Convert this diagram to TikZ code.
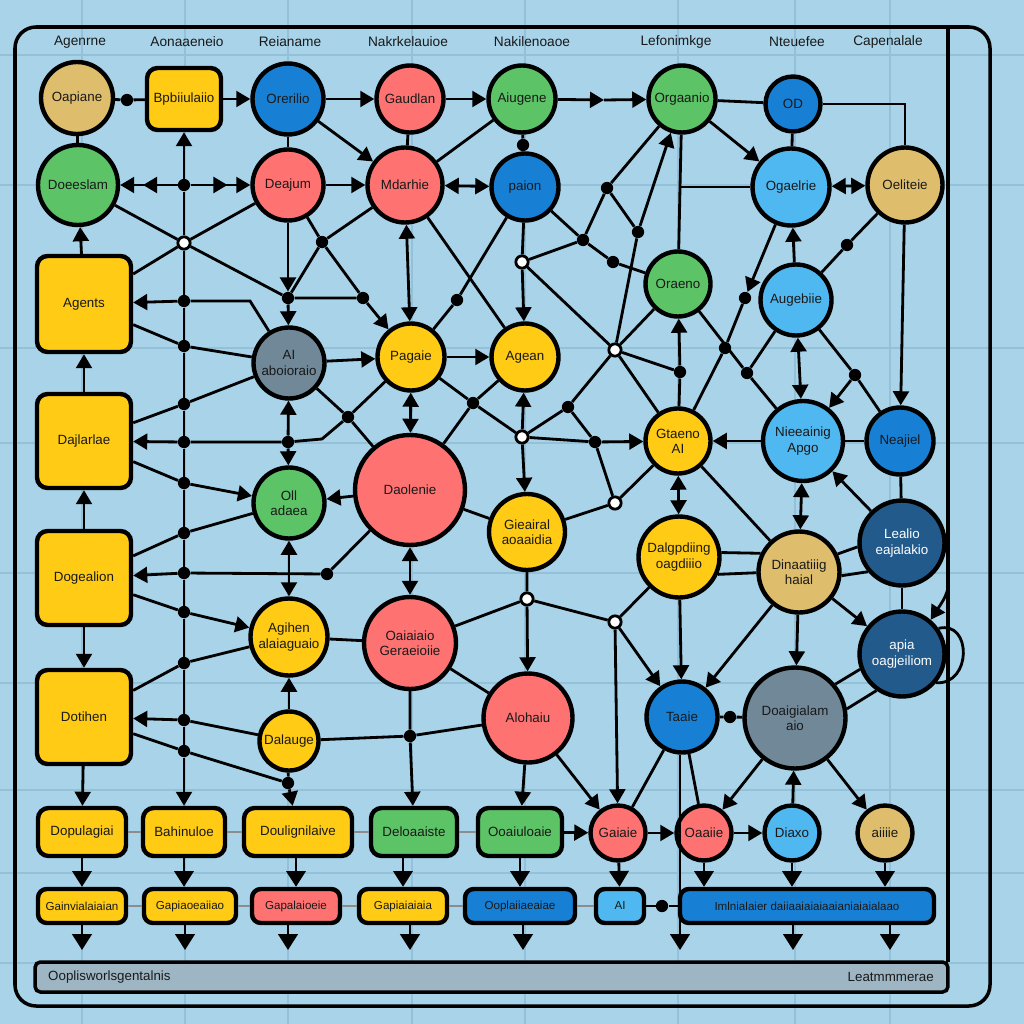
\documentclass[tikz,border=0pt]{standalone}
\usepackage{fontspec}
\setmainfont{Liberation Sans}
\usetikzlibrary{arrows.meta}
\definecolor{bgc}{RGB}{168,211,233}
\definecolor{gridc}{RGB}{148,192,216}
\definecolor{cyel}{RGB}{255,203,20}
\definecolor{csal}{RGB}{255,114,114}
\definecolor{cgrn}{RGB}{92,196,102}
\definecolor{cblu}{RGB}{24,128,212}
\definecolor{clbl}{RGB}{80,184,240}
\definecolor{ctan}{RGB}{222,190,108}
\definecolor{cdbl}{RGB}{34,90,140}
\definecolor{cgry}{RGB}{112,136,152}
\definecolor{cbar}{RGB}{158,182,196}
\begin{document}
\begin{tikzpicture}[x=0.02cm,y=-0.02cm,
  lbl/.style={font=\fontsize{7.6}{8.6}\selectfont,align=center,text=black!90},
  bub/.style={circle,draw=black,line width=2.5pt,inner sep=0pt,fill=#1,lbl},
  box/.style={rectangle,rounded corners=6pt,draw=black,line width=2.5pt,inner sep=2pt,fill=#1,lbl},
  sbox/.style={box=#1,font=\fontsize{6.6}{7.5}\selectfont,minimum height=0.68cm,rounded corners=5pt},
  dot/.style={circle,fill=black,inner sep=0pt,minimum size=7pt},
  odot/.style={circle,draw=black,fill=white,line width=1.6pt,inner sep=0pt,minimum size=7pt},
  ln/.style={line width=1.6pt},
  arr/.style={ln,-{Triangle[length=8pt,width=9pt]}},
  arrs/.style={ln,{Triangle[length=8pt,width=9pt]}-{Triangle[length=8pt,width=9pt]}},
  dbl/.style={ln,-{Triangle[length=8pt,width=9pt,sep=5pt]Triangle[length=8pt,width=9pt]}},
  big/.style={ln,-{Triangle[length=9pt,width=11pt]}},
  faint/.style={line width=0.7pt,draw=black!45},
  hdr/.style={font=\fontsize{7.8}{9}\selectfont,text=black!90}]
\useasboundingbox (0,0) rectangle (1024,1024);
\fill[bgc] (0,0) rectangle (1024,1024);
\foreach \gx in {82,185,288,412,525,678,795,890}
  \draw[gridc,line width=0.6pt] (\gx,0) -- (\gx,1024);
\foreach \gy in {55,185,348,443,573,683,790,873,963}
  \draw[gridc,line width=0.6pt] (0,\gy) -- (1024,\gy);
\draw[line width=2pt,rounded corners=12pt] (15,27) rectangle (990,1006);
\draw[line width=2pt] (948,27) -- (948,962);

\node[hdr] (h1) at (80,42) {Agenrne};
\node[hdr] (h2) at (187,42) {Aonaaeneio};
\node[hdr] (h3) at (290,42) {Reianame};
\node[hdr] (h4) at (408,42) {Nakrkelauioe};
\node[hdr] (h5) at (532,42) {Nakilenoaoe};
\node[hdr] (h6) at (676,42) {Lefonimkge};
\node[hdr] (h7) at (797,42) {Nteuefee};
\node[hdr] (h8) at (888,42) {Capenalale};

\node[bub=ctan,minimum size=1.44cm] (oapiane) at (77,98) {Oapiane};
\node[box=cyel,minimum width=1.48cm,minimum height=1.24cm] (bpbiu) at (184,99) {Bpbiiulaiio};
\node[bub=cblu,minimum size=1.42cm] (orerio) at (288,99) {Orerilio};
\node[bub=csal,minimum size=1.34cm] (gaudlan) at (410,99) {Gaudlan};
\node[bub=cgrn,minimum size=1.34cm] (aiugene) at (522,99) {Aiugene};
\node[bub=cgrn,minimum size=1.34cm] (orgaanio) at (682,99) {Orgaanio};
\node[bub=cblu,minimum size=1.1cm] (od) at (793,104) {OD};
\node[bub=cgrn,minimum size=1.6cm] (doeeslam) at (78,185) {Doeeslam};
\node[bub=csal,minimum size=1.42cm] (deajum) at (288,185) {Deajum};
\node[bub=csal,minimum size=1.5cm] (mdarhie) at (405,185) {Mdarhie};
\node[bub=cblu,minimum size=1.34cm] (paion) at (525,187) {paion};
\node[bub=clbl,minimum size=1.54cm] (ogaelrie) at (791,187) {Ogaelrie};
\node[bub=ctan,minimum size=1.5cm] (oeliteie) at (905,185) {Oeliteie};
\node[box=cyel,minimum width=1.88cm,minimum height=1.92cm] (agents) at (84,304) {Agents};
\node[bub=cgrn,minimum size=1.3cm] (oraeno) at (678,284) {Oraeno};
\node[bub=clbl,minimum size=1.42cm] (augebiie) at (796,300) {Augebiie};
\node[bub=cgry,minimum size=1.42cm] (aiabo) at (289,363) {AI\\aboioraio};
\node[bub=cyel,minimum size=1.34cm] (pagaie) at (411,357) {Pagaie};
\node[bub=cyel,minimum size=1.34cm] (agean) at (525,357) {Agean};
\node[box=cyel,minimum width=1.88cm,minimum height=1.88cm] (dajlarlae) at (84,441) {Dajlarlae};
\node[bub=cyel,minimum size=1.3cm] (gtaeno) at (678,441) {Gtaeno\\AI};
\node[bub=clbl,minimum size=1.6cm] (nieeainig) at (803,441) {Nieeainig\\Apgo};
\node[bub=cblu,minimum size=1.34cm] (neajiel) at (900,441) {Neajiel};
\node[bub=csal,minimum size=2.2cm] (daolenie) at (410,490) {Daolenie};
\node[bub=cgrn,minimum size=1.42cm] (olladaea) at (289,503) {Oll\\adaea};
\node[bub=cyel,minimum size=1.52cm] (gieairal) at (527,532) {Gieairal\\aoaaidia};
\node[bub=cyel,minimum size=1.62cm] (dalgpdiing) at (679,557) {Dalgpdiing\\oagdiiio};
\node[bub=ctan,minimum size=1.62cm] (dinaatiiig) at (799,572) {Dinaatiiig\\haial};
\node[bub=cdbl,minimum size=1.7cm,text=white] (lealio) at (902,543) {Lealio\\eajalakio};
\node[box=cyel,minimum width=1.88cm,minimum height=1.88cm] (dogealion) at (84,578) {Dogealion};
\node[bub=cyel,minimum size=1.54cm] (agihen) at (289,637) {Agihen\\alaiaguaio};
\node[bub=csal,minimum size=1.84cm] (oaiaiaio) at (410,643) {Oaiaiaio\\Geraeioiie};
\node[bub=cdbl,minimum size=1.7cm,text=white] (apia) at (902,654) {apia\\oagjeiliom};
\node[box=cyel,minimum width=1.88cm,minimum height=1.88cm] (dotihen) at (84,717) {Dotihen};
\node[bub=cyel,minimum size=1.18cm] (dalauge) at (289,741) {Dalauge};
\node[bub=csal,minimum size=1.78cm] (alohaiu) at (528,718) {Alohaiu};
\node[bub=cblu,minimum size=1.42cm] (taaie) at (682,717) {Taaie};
\node[bub=cgry,minimum size=2.02cm] (doaigialam) at (795,718) {Doaigialam\\aio};

\node[box=cyel,minimum width=1.76cm,minimum height=0.96cm] (dopulagiai) at (82,832) {Dopulagiai};
\node[box=cyel,minimum width=1.64cm,minimum height=0.96cm] (bahinuloe) at (184,832) {Bahinuloe};
\node[box=cyel,minimum width=2.16cm,minimum height=0.96cm] (doulignilaive) at (298,832) {Doulignilaive};
\node[box=cgrn,minimum width=1.72cm,minimum height=0.96cm] (deloaaiste) at (414,832) {Deloaaiste};
\node[box=cgrn,minimum width=1.68cm,minimum height=0.96cm] (ooaiuloaie) at (520,832) {Ooaiuloaie};
\node[bub=csal,minimum size=1.1cm] (gaiaie) at (618,833) {Gaiaie};
\node[bub=csal,minimum size=1.1cm] (oaaiie) at (704,833) {Oaaiie};
\node[bub=clbl,minimum size=1.1cm] (diaxo) at (792,833) {Diaxo};
\node[bub=ctan,minimum size=1.1cm] (aiiiie) at (885,833) {aiiiie};

\node[sbox=cyel,minimum width=1.76cm] (gainvia) at (82,906) {Gainvialaiaian};
\node[sbox=cyel,minimum width=1.84cm] (gapiao) at (190,906) {Gapiaoeaiiao};
\node[sbox=csal,minimum width=1.76cm] (gapalai) at (296,906) {Gapalaioeie};
\node[sbox=cyel,minimum width=1.76cm] (gapiai) at (403,906) {Gapiaiaiaia};
\node[sbox=cblu,minimum width=2.2cm] (ooplai) at (520,906) {Ooplaiiaeaiae};
\node[sbox=clbl,minimum width=0.96cm] (aibox) at (620,906) {AI};
\node[sbox=cblu,minimum width=5.08cm] (imlnia) at (807,906) {Imlnialaier daiiaaiaiaiaaianiaiaialaao};

\node[draw=black,fill=cbar,line width=2pt,rounded corners=3pt,minimum width=18.26cm,minimum height=0.6cm] (bar) at (491.5,977) {};
\node[lbl,anchor=west] (barl) at (42,977) {Ooplisworlsgentalnis};
\node[lbl,anchor=east] (barr) at (940,977) {Leatmmmerae};

\node[dot] (d1) at (127,100) {};
\node[dot] (d2) at (184,185) {};
\node[odot] (o1) at (184,243) {};
\node[dot] (d3) at (184,301) {};
\node[dot] (d4) at (184,346) {};
\node[dot] (d5) at (184,404) {};
\node[dot] (d6) at (184,442) {};
\node[dot] (d7) at (184,483) {};
\node[dot] (d8) at (184,533) {};
\node[dot] (d9) at (184,573) {};
\node[dot] (d10) at (184,612) {};
\node[dot] (d11) at (184,663) {};
\node[dot] (d12) at (184,720) {};
\node[dot] (d13) at (184,751) {};
\node[dot] (d14) at (288,298) {};
\node[dot] (d15) at (288,442) {};
\node[dot] (d16) at (348,417) {};
\node[dot] (d17) at (327,574) {};
\node[dot] (d18) at (288,783) {};
\node[dot] (d19) at (363,298) {};
\node[dot] (d20) at (322,242) {};
\node[dot] (d21) at (457,300) {};
\node[dot] (d22) at (473,403) {};
\node[dot] (d23) at (568,407) {};
\node[dot] (d24) at (595,442) {};
\node[dot] (d25) at (583,240) {};
\node[dot] (d26) at (613,262) {};
\node[dot] (d27) at (607,188) {};
\node[dot] (d28) at (638,232) {};
\node[dot] (d29) at (680,372) {};
\node[dot] (d30) at (725,348) {};
\node[dot] (d31) at (745,298) {};
\node[dot] (d33) at (747,373) {};
\node[dot] (d34) at (847,245) {};
\node[dot] (d35) at (855,375) {};
\node[dot] (d36) at (730,717) {};
\node[dot] (d37) at (410,736) {};
\node[dot] (d38) at (662,906) {};
\node[dot] (d39) at (523,145) {};
\node[odot] (o2) at (522,437) {};
\node[odot] (o3) at (522,262) {};
\node[odot] (o4) at (615,350) {};
\node[odot] (o5) at (615,503) {};
\node[odot] (o6) at (527,599) {};
\node[odot] (o7) at (615,622) {};
\coordinate (m1) at (604,100);
\coordinate (k1) at (250,301);
\coordinate (k2) at (322,439);
\coordinate (k5) at (680,187);
\coordinate (e1) at (82,950);
\coordinate (e2) at (185,950);
\coordinate (e3) at (288,950);
\coordinate (e4) at (410,950);
\coordinate (e5) at (523,950);
\coordinate (e6) at (680,950);
\coordinate (e7) at (793,950);
\coordinate (e8) at (890,950);

\draw[ln] (oapiane) -- (d1) -- (bpbiu);
\draw[arr] (bpbiu) -- (orerio);
\draw[arr] (orerio) -- (gaudlan);
\draw[arr] (gaudlan) -- (aiugene);
\draw[arr] (aiugene) -- (m1);
\draw[arr] (m1) -- (orgaanio);
\draw[ln] (orgaanio) -- (od);
\draw[ln] (od) -- (od -| oeliteie) -- (oeliteie);
\draw[ln] (oapiane) -- (doeeslam);
\draw[ln] (orerio) -- (deajum);
\draw[ln] (gaudlan) -- (mdarhie);
\draw[ln] (aiugene) -- (d39) -- (paion);
\draw[arr] (orerio) -- (mdarhie);
\draw[ln] (aiugene) -- (mdarhie);
\draw[arr] (orgaanio) -- (ogaelrie);
\draw[ln] (od) -- (ogaelrie);
\draw[arrs] (ogaelrie) -- (oeliteie);
\draw[dbl] (d2) -- (doeeslam);
\draw[dbl] (d2) -- (deajum);
\draw[arr] (d2) -- (bpbiu);
\draw[arr] (deajum) -- (mdarhie);
\draw[arrs] (mdarhie) -- (paion);

\draw[ln] (d2) -- (o1) -- (d3) -- (d4) -- (d5) -- (d6) -- (d7) -- (d8) -- (d9) -- (d10) -- (d11) -- (d12) -- (d13);
\draw[arr] (d13) -- (bahinuloe);
\draw[arr] (agents) -- (doeeslam);
\draw[arr] (dajlarlae) -- (agents);
\draw[arr] (dogealion) -- (dajlarlae);
\draw[arr] (dogealion) -- (dotihen);
\draw[arr] (dotihen) -- (dopulagiai);

\draw[ln] (doeeslam) -- (o1) -- (deajum);
\draw[ln] (agents) -- (o1) -- (d14);
\draw[arr] (deajum) -- (d14);
\draw[arr] (d14) -- (aiabo);
\draw[arr] (aiabo) -- (k1) -- (d3) -- (agents);
\draw[ln] (agents) -- (d4) -- (aiabo);
\draw[ln] (dajlarlae) -- (d5) -- (aiabo);
\draw[arr] (d16) -- (k2) -- (d15) -- (d6) -- (dajlarlae);
\draw[ln] (pagaie) -- (d16);
\draw[arr] (d15) -- (aiabo);
\draw[arr] (d15) -- (olladaea);
\draw[ln] (aiabo) -- (d16) -- (daolenie);
\draw[arr] (dajlarlae) -- (d7) -- (olladaea);
\draw[ln] (dogealion) -- (d8) -- (olladaea);
\draw[arr] (daolenie) -- (olladaea);
\draw[arr] (daolenie) -- (d17) -- (d9) -- (dogealion);
\draw[arr] (dogealion) -- (d10) -- (agihen);
\draw[ln] (dotihen) -- (d11) -- (agihen);
\draw[arr] (dalauge) -- (d12) -- (dotihen);
\draw[ln] (dotihen) -- (d13) -- (d18);
\draw[arrs] (olladaea) -- (agihen);
\draw[arr] (dalauge) -- (agihen);
\draw[arr] (dalauge) -- (d18) -- (doulignilaive);

\draw[ln] (deajum) -- (d20) -- (d19);
\draw[ln] (mdarhie) -- (d20) -- (d14) -- (d19);
\draw[arr] (d19) -- (pagaie);
\draw[arr] (aiabo) -- (pagaie);
\draw[arr] (pagaie) -- (agean);
\draw[arrs] (mdarhie) -- (pagaie);
\draw[arrs] (pagaie) -- (daolenie);
\draw[ln] (paion) -- (d21) -- (pagaie);
\draw[ln] (mdarhie) -- (agean);
\draw[ln] (pagaie) -- (d22) -- (o2);
\draw[ln] (agean) -- (d22) -- (daolenie);
\draw[arr] (paion) -- (o3) -- (agean);
\draw[arr] (o2) -- (agean);
\draw[arr] (o2) -- (gieairal);
\draw[ln] (daolenie) -- (gieairal);
\draw[arrs] (daolenie) -- (oaiaiaio);
\draw[ln] (agihen) -- (oaiaiaio);
\draw[ln] (dalauge) -- (d37) -- (alohaiu);
\draw[arr] (oaiaiaio) -- (d37) -- (deloaaiste);
\draw[arr] (gieairal) -- (o6) -- (alohaiu);
\draw[ln] (oaiaiaio) -- (o6) -- (o7);
\draw[ln] (oaiaiaio) -- (alohaiu);
\draw[arr] (alohaiu) -- (ooaiuloaie);
\draw[arr] (alohaiu) -- (gaiaie);

\draw[ln] (paion) -- (d25) -- (d26) -- (oraeno);
\draw[ln] (orgaanio) -- (d27) -- (d25) -- (o3);
\draw[ln] (d27) -- (d28) -- (o4);
\draw[arr] (d28) -- (orgaanio);
\draw[ln] (orgaanio) -- (k5) -- (oraeno);
\draw[ln] (k5) -- (ogaelrie);
\draw[ln] (o3) -- (o4) -- (gtaeno);
\draw[ln] (oraeno) -- (o4) -- (d23) -- (d24);
\draw[ln] (o2) -- (d23);
\draw[ln] (o4) -- (d29);
\draw[arr] (gtaeno) -- (d29) -- (oraeno);
\draw[arr] (o2) -- (d24) -- (gtaeno);
\draw[ln] (gieairal) -- (o5) -- (gtaeno);
\draw[ln] (d24) -- (o5);
\draw[arr] (ogaelrie) -- (d31);
\draw[ln] (d31) -- (d30) -- (gtaeno);
\draw[ln] (oraeno) -- (d33) -- (nieeainig);
\draw[ln] (augebiie) -- (d33);
\draw[arr] (augebiie) -- (ogaelrie);
\draw[arrs] (augebiie) -- (nieeainig);
\draw[ln] (augebiie) -- (d34) -- (oeliteie);
\draw[ln] (augebiie) -- (d35) -- (neajiel);
\draw[arr] (d35) -- (nieeainig);
\draw[arr] (oeliteie) -- (neajiel);
\draw[arr] (nieeainig) -- (gtaeno);
\draw[ln] (nieeainig) -- (neajiel);
\draw[ln] (neajiel) -- (lealio);
\draw[arr] (lealio) -- (nieeainig);
\draw[arrs] (nieeainig) -- (dinaatiiig);
\draw[arrs] (gtaeno) -- (dalgpdiing);
\draw[ln] (gtaeno) -- (dinaatiiig);

\draw[ln] (o7) -- (dalgpdiing);
\draw[arr] (o7) -- (gaiaie);
\draw[arr] (o7) -- (taaie);
\draw[arr] (dalgpdiing) -- (taaie);
\draw[arr] (dinaatiiig) -- (taaie);
\draw[arr] (dinaatiiig) -- (doaigialam);
\draw[arr] (dinaatiiig) -- (apia);
\draw[ln] (dalgpdiing.6) -- (dinaatiiig.154);
\draw[ln] (dalgpdiing.-24) -- (dinaatiiig.181);
\draw[ln] (dinaatiiig.25) -- (lealio.185);
\draw[ln] (dinaatiiig.-5) -- (lealio.220);
\draw[ln] (lealio) -- (apia);
\draw[ln] (doaigialam.40) -- (apia.200);
\draw[ln] (doaigialam.10) -- (apia.235);
\draw[ln] (taaie) -- (d36) -- (doaigialam);
\draw[arr] (lealio.east) .. controls (950,590) .. (apia.50);
\draw[ln] (apia.35) .. controls (972,620) and (972,685) .. (apia.-40);

\draw[arr] (ooaiuloaie) -- (gaiaie);
\draw[arr] (gaiaie) -- (oaaiie);
\draw[arr] (oaaiie) -- (diaxo);
\draw[ln] (taaie) -- (gaiaie);
\draw[ln] (taaie) -- (oaaiie);
\draw[arr] (doaigialam) -- (oaaiie);
\draw[arr] (diaxo) -- (doaigialam);
\draw[arr] (doaigialam) -- (aiiiie);

\draw[big] (dopulagiai) -- (gainvia);
\draw[big] (bahinuloe) -- (bahinuloe |- gapiao.north);
\draw[big] (doulignilaive.south -| gapalai) -- (gapalai);
\draw[big] (deloaaiste.south -| gapiai) -- (gapiai);
\draw[big] (ooaiuloaie) -- (ooplai);
\draw[big] (gaiaie) -- (aibox);
\draw[big] (oaaiie) -- (oaaiie |- imlnia.north);
\draw[big] (diaxo) -- (diaxo |- imlnia.north);
\draw[big] (aiiiie) -- (aiiiie |- imlnia.north);
\draw[faint] (dopulagiai) -- (bahinuloe) -- (doulignilaive) -- (deloaaiste) -- (ooaiuloaie);
\draw[faint] (gainvia) -- (gapiao) -- (gapalai) -- (gapiai) -- (ooplai) -- (aibox);
\draw[ln] (aibox) -- (d38) -- (imlnia);

\draw[big] (gainvia) -- (e1);
\draw[big] (gapiao.south -| e2) -- (e2);
\draw[big] (gapalai.south -| e3) -- (e3);
\draw[big] (gapiai.south -| e4) -- (e4);
\draw[big] (ooplai.south -| e5) -- (e5);
\draw[big] (taaie.south -| e6) -- (e6);
\draw[big] (imlnia.south -| e7) -- (e7);
\draw[big] (imlnia.south -| e8) -- (e8);
\end{tikzpicture}
\end{document}
